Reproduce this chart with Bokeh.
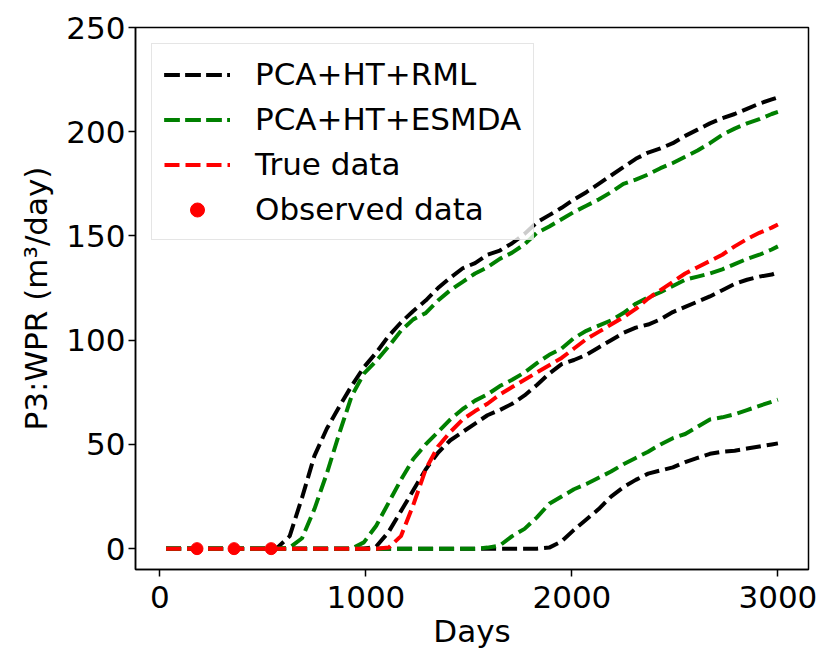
from bokeh.plotting import figure
from bokeh.models import Range1d, FixedTicker
from bokeh.embed import file_html
from bokeh.resources import INLINE

days = [30, 90, 150, 210, 270, 330, 390, 450, 510, 570,
        630, 690, 750, 810, 870, 930, 990, 1050, 1110, 1170,
        1230, 1290, 1350, 1410, 1470, 1530, 1590, 1650, 1710, 1770,
        1830, 1890, 1950, 2010, 2070, 2130, 2190, 2250, 2310, 2370,
        2430, 2490, 2550, 2610, 2670, 2730, 2790, 2850, 2910, 2970, 3000]

rml_1 = [0, 0, 0, 0, 0, 0, 0, 0, 0, 0.5,
         6, 24.5, 44.5, 57.5, 68, 78, 87, 94, 102, 108.5,
         114, 119, 125, 130, 134.5, 137, 141, 143, 146.5, 151,
         156.5, 160, 163.5, 167.5, 171, 175, 179, 183, 187, 190,
         192, 194.5, 198, 201, 204, 206.5, 208.5, 211, 213.5, 215.5, 216.5]
rml_2 = [0, 0, 0, 0, 0, 0, 0, 0, 0, 0,
         0, 0, 0, 0, 0, 0, 0, 1, 8, 18,
         28, 38, 46, 52, 56, 60, 64, 66.5, 69.5, 73.5,
         78.5, 84, 88.5, 90.5, 93, 96.5, 100, 103.5, 106, 107.5,
         110, 113.5, 116, 118.5, 121, 124, 127, 129, 130.5, 131.5, 132.5]
rml_3 = [0, 0, 0, 0, 0, 0, 0, 0, 0, 0,
         0, 0, 0, 0, 0, 0, 0, 0, 0, 0,
         0, 0, 0, 0, 0, 0, 0, 0, 0, 0,
         0, 0.5, 3.5, 9, 14, 19, 25, 29.5, 33, 36,
         37.5, 39, 41.5, 43.5, 45.5, 46.5, 47, 48, 49, 50, 50.5]

esmda_1 = [0, 0, 0, 0, 0, 0, 0, 0, 0, 0,
           0.5, 5, 19, 36, 55, 73, 84, 90, 97, 104.5,
           110, 113, 119, 124, 128, 132, 135, 139, 142, 146,
           151.5, 154.5, 158, 161.5, 164.5, 167.5, 171, 175, 177, 179.5,
           182.5, 185, 188, 191, 194.5, 198.5, 201.5, 204, 206, 208.5, 209.5]
esmda_2 = [0, 0, 0, 0, 0, 0, 0, 0, 0, 0,
           0, 0, 0, 0, 0, 0, 3, 11, 22, 33,
           43, 50, 56, 62, 67, 71, 74, 78, 81, 84.5,
           89, 93, 96, 101, 104.5, 107, 109.5, 113, 117.5, 120.5,
           123, 126, 129, 130.5, 132, 134, 136.5, 139, 141, 143.5, 145]
esmda_3 = [0, 0, 0, 0, 0, 0, 0, 0, 0, 0,
           0, 0, 0, 0, 0, 0, 0, 0, 0, 0,
           0, 0, 0, 0, 0, 0, 0.5, 1.5, 6, 9.5,
           15, 21.5, 25, 28.5, 31, 34, 37, 40.5, 43.5, 46.5,
           50, 53, 55, 58.5, 62, 63, 64.5, 66.5, 68.5, 70.5, 71.5]

true_wpr = [0, 0, 0, 0, 0, 0, 0, 0, 0, 0,
            0, 0, 0, 0, 0, 0, 0, 0, 0.5, 6,
            21, 38, 49, 56, 62, 66, 69.5, 74, 77.5, 81,
            84.5, 88, 91.5, 96, 100.5, 104, 107.5, 111, 115, 120,
            124, 128, 132, 135, 138, 141, 145, 148.5, 151.5, 154, 155.5]

obs_days = [180, 360, 540]
obs_wpr = [0, 0, 0]

x_ticks = [0, 1000, 2000, 3000]
y_ticks = [0, 50, 100, 150, 200, 250]

FONT = "DejaVu Sans"
FS = "31px"

p = figure(frame_width=673, frame_height=542,
           min_border_left=135, min_border_right=14,
           min_border_top=27, min_border_bottom=72,
           x_range=Range1d(-118.5, 3148.5), y_range=Range1d(-10, 250),
           output_backend="svg", toolbar_location=None)

p.xgrid.visible = False
p.ygrid.visible = False
p.outline_line_color = "black"
p.outline_line_width = 1.5
p.background_fill_color = "white"
p.border_fill_color = "white"

dash = "15 6"
lw = 4
for ys in (rml_1, rml_2, rml_3):
    p.line(days, ys, line_color="black", line_dash=dash, line_width=lw,
           legend_label="PCA+HT+RML")
for ys in (esmda_1, esmda_2, esmda_3):
    p.line(days, ys, line_color="#008000", line_dash=dash, line_width=lw,
           legend_label="PCA+HT+ESMDA")
p.line(days, true_wpr, line_color="#ff0000", line_dash=dash, line_width=lw,
       legend_label="True data")
p.scatter(obs_days, obs_wpr, size=12, fill_color="#ff0000", line_color="#ff0000",
          legend_label="Observed data")

for ax in (p.xaxis[0], p.yaxis[0]):
    ax.axis_line_width = 1.5
    ax.major_tick_line_width = 1.5
    ax.major_tick_out = 7
    ax.major_tick_in = 0
    ax.minor_tick_out = 0
    ax.minor_tick_in = 0
    ax.major_label_text_font = FONT
    ax.major_label_text_font_size = FS
    ax.major_label_text_color = "black"
    ax.axis_label_text_font = FONT
    ax.axis_label_text_font_size = FS
    ax.axis_label_text_font_style = "normal"
    ax.axis_label_text_color = "black"

p.xaxis.major_label_standoff = 9
p.yaxis.major_label_standoff = 3
p.xaxis.ticker = FixedTicker(ticks=x_ticks)
p.yaxis.ticker = FixedTicker(ticks=y_ticks)
p.xaxis.axis_label = "Days"
p.yaxis.axis_label = "P3:WPR (m³/day)"
p.xaxis.axis_label_standoff = 2
p.yaxis.axis_label_standoff = 9

lg = p.legend[0]
lg.location = "top_left"
lg.margin = 16
lg.padding = 12
lg.spacing = 9
lg.glyph_width = 66
lg.glyph_height = 35
lg.label_height = 35
lg.label_standoff = 25
lg.label_text_font = FONT
lg.label_text_font_size = FS
lg.label_text_color = "black"
lg.border_line_color = "#cccccc"
lg.border_line_width = 1.5
lg.background_fill_alpha = 0.8

open("out.html", "w").write(file_html(p, INLINE))
